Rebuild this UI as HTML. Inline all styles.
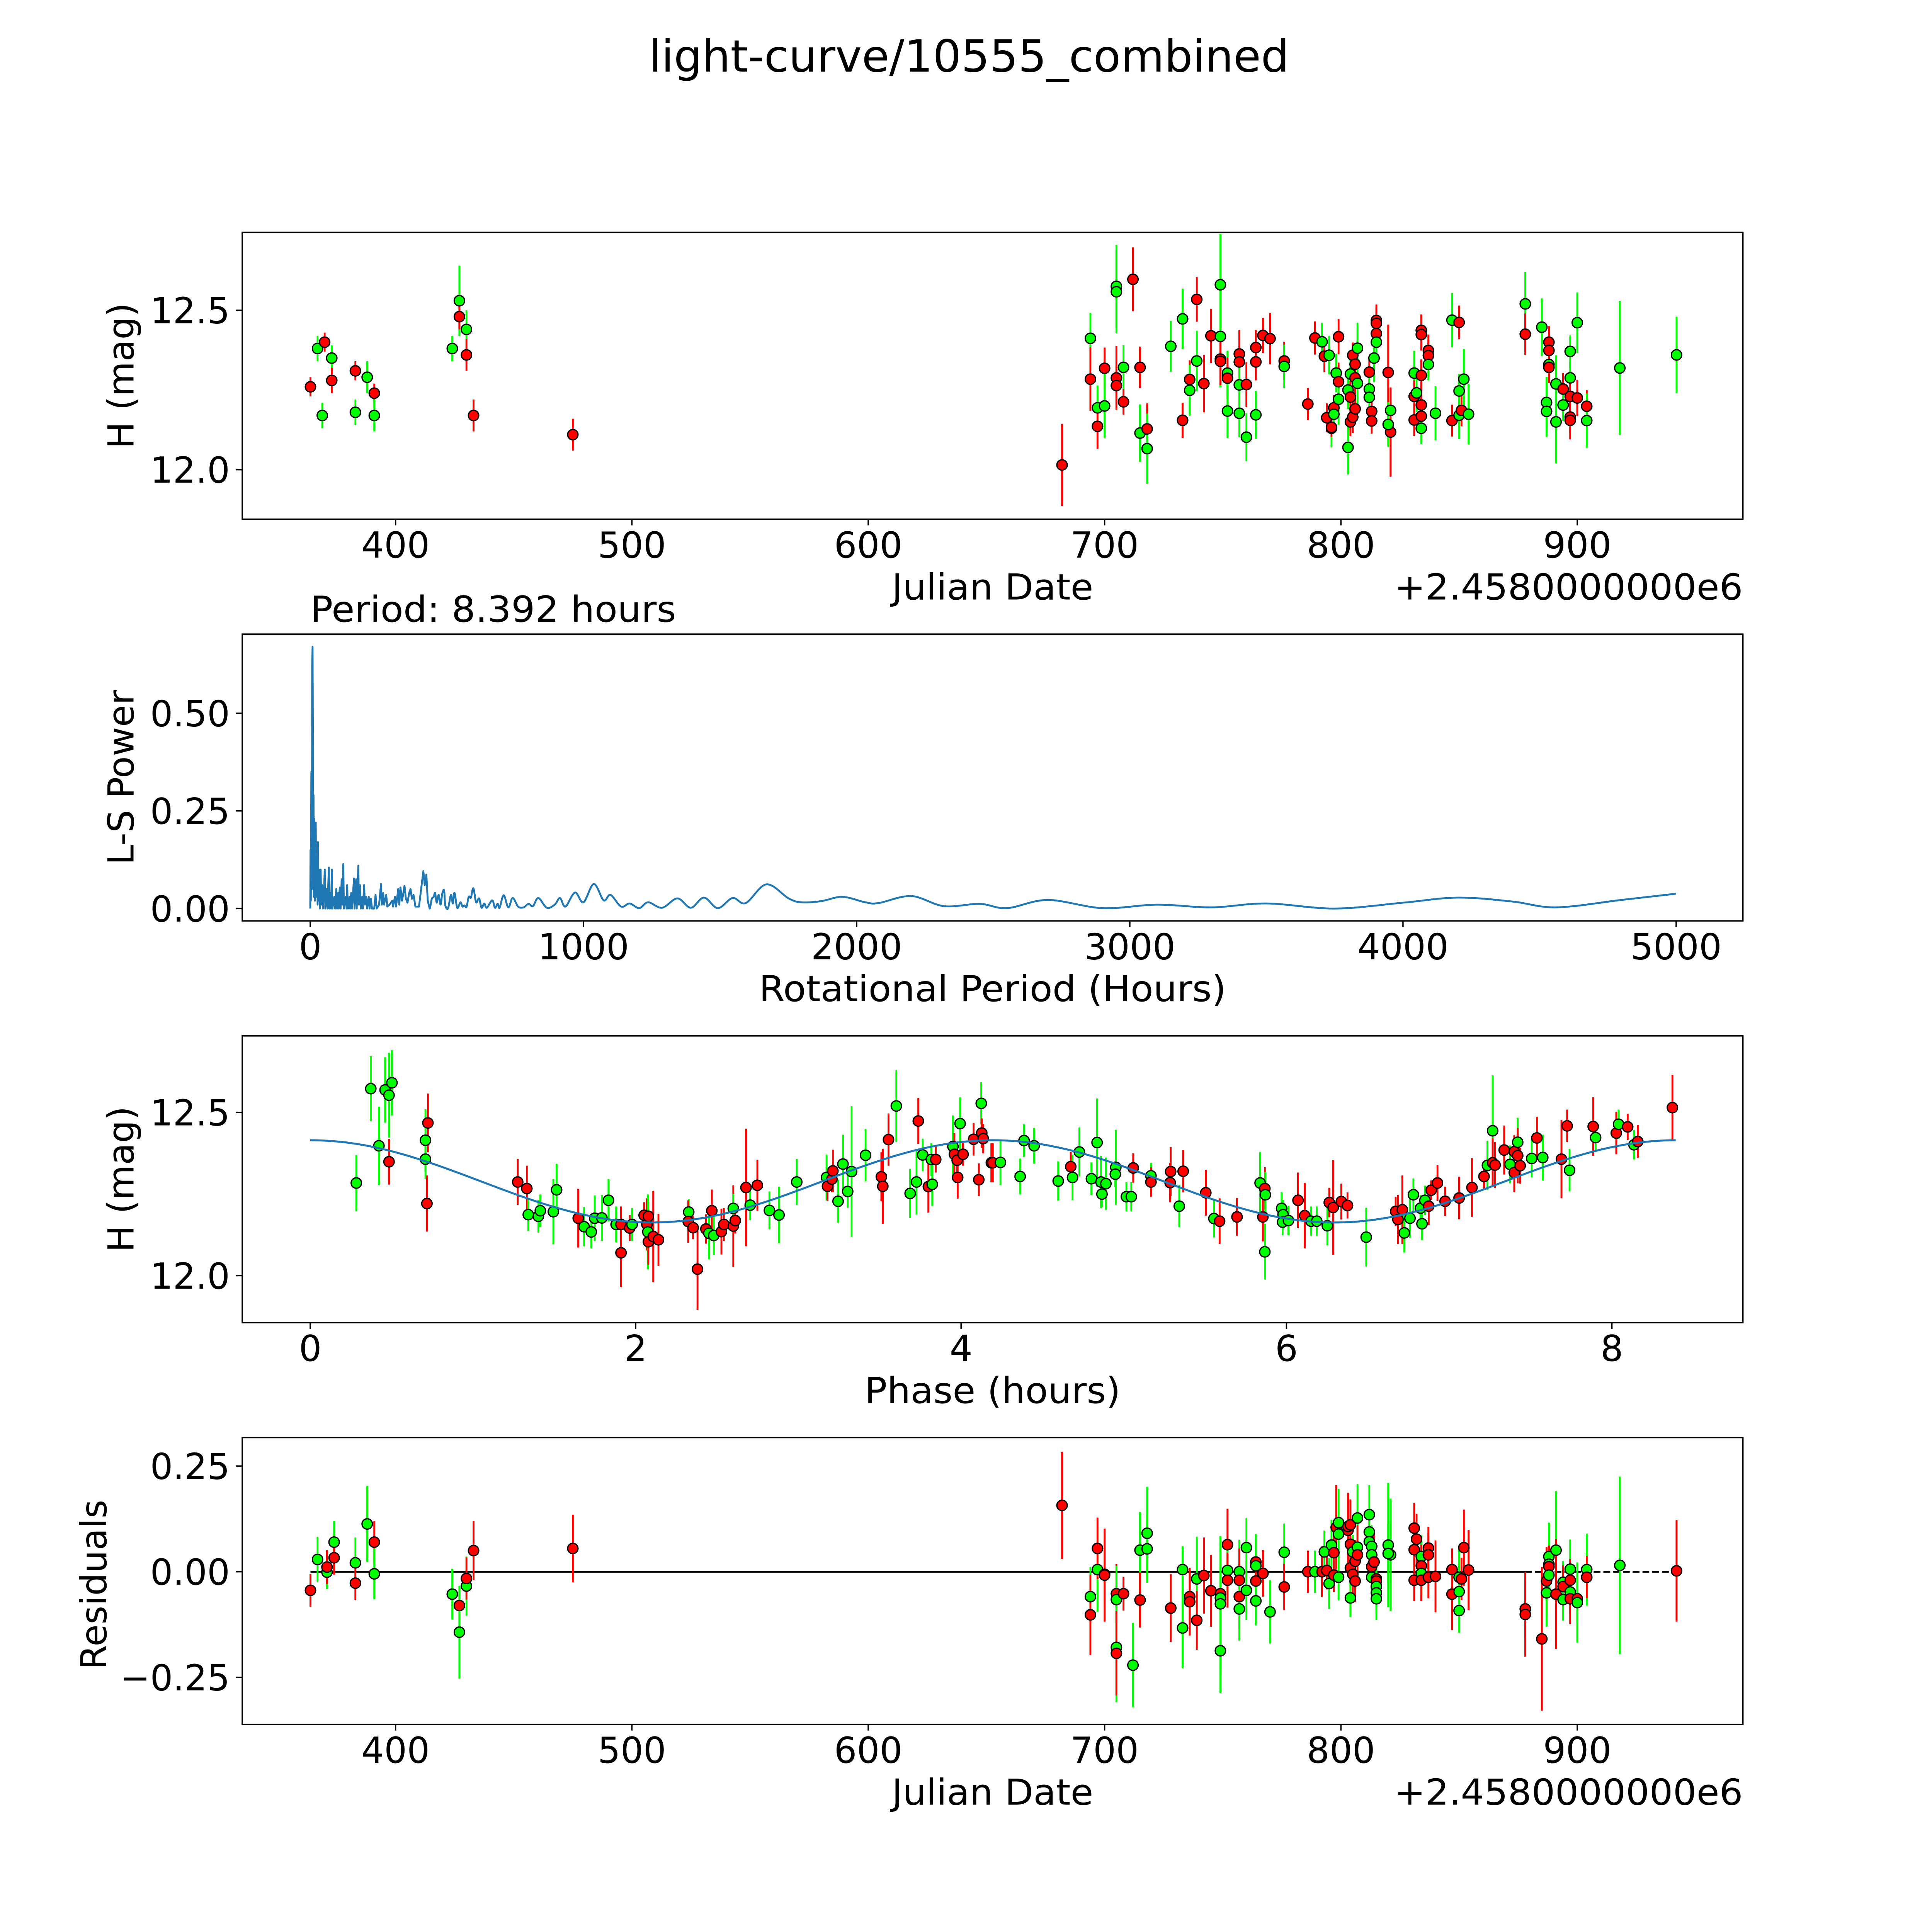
<!DOCTYPE html>
<html><head><meta charset="utf-8"><title>light-curve/10555_combined</title>
<style>html,body{margin:0;padding:0;background:#fff;overflow:hidden;width:5400px;height:5400px}svg{display:block}text{font-family:"DejaVu Sans","Liberation Sans",sans-serif;fill:#000}</style>
</head><body>
<svg id="fig" xmlns="http://www.w3.org/2000/svg" width="5400" height="5400" viewBox="0 0 1688 1688">
<rect width="1688" height="1688" fill="#fff"/>
<text x="784" y="58" font-size="36" text-anchor="middle" textLength="518" lengthAdjust="spacingAndGlyphs">light-curve/10555_combined</text>
<g id="p1"></g>
<g id="p2"></g>
<g id="p3"></g>
<g id="p4"></g>
</svg>
<script>
// ---- Panel 1: light curve ----
const lcDay=[364,367,370,369,373,373,383,383,388,391,391,424,427,427,430,430,433,475,
682,694,694,697,697,700,700,705,705,705,705,708,708,712,715,715,718,718,728,733,733,736,736,739,739,742,745,749,749,749,749,752,752,752,757,757,757,757,760,760,764,764,764,767,770,776,776,786,789,792,793,795,794,796,796,797,797,798,799,799,799,803,803,804,804,804,805,805,806,806,806,807,807,812,812,812,813,813,814,815,815,815,815,820,821,821,820,831,831,831,832,834,834,834,834,834,834,837,837,837,840,847,847,850,850,850,851,852,854,878,878,885,888,888,888,888,887,887,891,891,894,894,897,897,897,897,897,900,900,904,904,918,942];
const lcMag=[12.26,12.38,12.40,12.17,12.35,12.28,12.31,12.18,12.29,12.24,12.17,12.38,12.53,12.48,12.44,12.36,12.17,12.11,
12.015,12.412,12.284,12.194,12.136,12.318,12.200,12.575,12.558,12.288,
12.264,12.321,12.213,12.597,12.321,12.115,12.128,12.066,12.387,12.473,
12.155,12.283,12.249,12.534,12.341,12.270,12.420,12.580,12.418,12.347,
12.340,12.303,12.287,12.184,12.363,12.338,12.266,12.177,12.267,12.102,
12.383,12.338,12.172,12.421,12.411,12.341,12.324,12.206,12.413,12.401,
12.356,12.359,12.163,12.130,12.133,12.194,12.174,12.303,12.276,12.221,
12.417,12.250,12.070,12.300,12.228,12.150,12.359,12.165,12.331,12.288,
12.191,12.381,12.271,12.306,12.253,12.227,12.183,12.153,12.350,12.468,
12.459,12.427,12.400,12.305,12.186,12.118,12.142,12.303,12.230,12.156,
12.241,12.437,12.424,12.296,12.203,12.168,12.130,12.374,12.358,12.330,
12.177,12.469,12.154,12.462,12.247,12.171,12.186,12.284,12.174,12.520,
12.425,12.447,12.400,12.374,12.330,12.321,12.211,12.183,12.269,12.150,
12.253,12.203,12.371,12.288,12.230,12.165,12.155,12.461,12.225,12.199,
12.154,12.319,12.360];
const lcErr=[.03,.04,.03,.04,.04,.04,.03,.04,.05,.03,.05,.04,.11,.04,.06,.05,.05,.05,
.129,.08,.1,.07,.07,.065,.1,.13,.13,.1,
.06,.07,.04,.1,.065,.09,.08,.11,.08,.095,
.055,.06,.08,.07,.095,.09,.085,.16,.16,.08,
.075,.07,.065,.085,.075,.075,.075,.075,.07,.075,
.055,.058,.075,.055,.08,.06,.068,.05,.052,.06,
.05,.06,.045,.06,.03,.04,.04,.06,.06,.08,
.055,.06,.085,.06,.05,.045,.04,.05,.05,.05,
.045,.08,.07,.04,.04,.04,.05,.04,.075,.05,
.05,.05,.06,.15,.07,.14,.07,.07,.05,.05,
.06,.05,.05,.05,.05,.05,.05,.05,.05,.05,
.085,.085,.05,.053,.053,.075,.05,.095,.095,.1,
.065,.09,.05,.05,.05,.05,.08,.08,.09,.13,
.05,.05,.05,.05,.05,.05,.06,.095,.057,.05,
.085,.21,.12];
const lcBand=("rgrggrrggrgggrgrrr"+"rgrgrrgggr"+"rgrrrgrggg"+"rrgrgrrggr"+"rgrgrrggrg"+"rrgrrrgrrg"+"rgrgrrggrg"+"rgggrrrrrr"+"rggrggrrgr"+"rrgrgrggrr"+"grrrrrgrrg"+"ggrrggrggg"+"rgrrgrgggg"+"rgggrrrgrr"+"ggg").split("");

// ---- Panel 2: periodogram ----
const lsPeriod=[0,1,2,4,6,7,8.4,9.5,10.5,12,13,15,17,20,22,25,27,28,30,33,35,38,40,44,46,50,53,55,60,63,68,70,74,76,79,81,88,91,95,98,102,104,108,111,115,117,121,123,130,133,135,138,144,146,150,153,160,162,168,170,176,178,182,185,190,193,197,200,205,208,214,217,222,226,234,239,243,252,259,262,267,270,278,282,290,300,303,310,314,322,326,330,336,345,350,356,362,367,372,378,385,398,405,414,419,425,430,437,445,452,457,463,470,477,483,490,494,504,515,522,528,538,550,557,565,572,580,588,597,607,618,627,637,646,666,676,686,693,708,725,741,761,781,799,815,835,866,895,914,934,969,1000,1038,1074,1099,1138,1169,1204,1237,1288,1344,1393,1441,1492,1546,1594,1670,1751,1798,1871,1948,2032,2080,2200,2320,2450,2550,2700,2900,3100,3300,3500,3750,4000,4200,4400,4560,4800,5000];
const lsPower=[0,0.15,0.02,0.35,0.05,0.62,0.67,0.45,0.08,0.29,0.03,0.23,0.02,0.22,0.03,0.12,0.01,0.17,0.02,0.1,0,0.1,0.01,0.06,0,0.04,0.1,0,0.05,0,0.105,0,0.04,0,0.1,0,0.03,0,0.05,0,0.04,0,0.054,0,0.075,0.01,0.114,0,0.03,0,0.06,0,0.03,0,0.04,0,0.077,0,0.075,0,0.11,0.01,0.06,0,0.03,0,0.06,0.01,0.03,0,0.03,0,0.025,0,0,0.035,0,0.01,0.063,0.01,0.04,0.01,0.035,0.005,0.01,0.02,0.005,0.03,0.005,0.05,0.01,0.054,0.02,0.058,0.025,0.015,0.04,0.05,0.025,0.035,0.005,0.005,0.045,0.096,0.06,0.087,0.02,0,0.025,0.03,0.04,0.015,0.035,0.01,0.037,0.047,0.01,0,0.035,0.013,0.04,0.002,0.016,0.005,0.008,0.004,0.03,0.028,0.052,0.016,0.026,0.002,0.013,0.002,0.021,0.002,0.012,0.002,0.034,0.003,0.027,0.005,0.003,0.012,0.006,0.027,0.002,0.01,0.027,0.005,0.041,0.016,0.063,0.021,0.035,0.005,0.013,0.001,0.016,0.002,0.026,0.002,0.028,0.001,0.027,0.014,0.062,0.026,0.016,0.019,0.03,0.016,0.014,0.032,0.006,0.012,0.001,0.022,0.001,0.01,0.003,0.013,0,0.015,0.028,0.018,0.003,0.022,0.038];
const lsXTicks=[0,1000,2000,3000,4000,5000];
const lsYTicks=[0,0.25,0.5];
const bestPeriod=8.392;

// ---- Panel 3: phased ----
const phPhase=[0.283,0.372,0.422,0.46,0.484,0.484,0.502,0.708,0.723,0.708,0.717,1.275,1.331,1.34,1.402,1.414,1.494,1.514,1.647,1.683,1.727,1.748,1.792,1.833,1.88,1.91,1.91,1.963,1.978,2.052,2.069,2.078,2.075,2.078,2.108,2.14,2.326,2.323,2.353,2.38,2.432,2.45,2.468,2.48,2.527,2.542,2.6,2.6,2.612,2.678,2.704,2.748,2.822,2.881,2.99,3.173,3.179,3.206,3.212,3.244,3.274,3.303,3.327,3.413,3.51,3.519,3.554,3.602,3.687,3.726,3.737,3.764,3.799,3.817,3.823,3.844,3.95,3.959,3.976,3.979,3.994,4.012,4.077,4.109,4.124,4.127,4.136,4.186,
4.195,4.242,4.363,4.387,4.449,4.597,4.674,4.685,4.727,4.801,4.836,4.86,4.89,4.866,4.951,4.948,5.016,5.046,5.058,5.167,5.167,5.288,5.285,5.365,5.341,5.504,5.554,5.589,5.696,5.838,5.867,5.87,5.855,5.867,5.97,5.979,5.976,6.012,6.071,6.112,6.151,6.186,6.251,6.263,6.287,6.337,6.375,6.49,6.671,6.685,6.712,6.724,6.759,6.78,6.824,6.833,6.851,6.874,6.889,6.928,6.975,7.061,7.14,7.214,7.235,7.267,7.267,7.282,7.338,7.374,7.4,7.4,7.421,7.421,7.436,7.507,7.539,7.575,7.69,7.725,7.74,7.885,7.9,8.027,8.041,8.097,8.136,8.159,8.372];
const phMag=[12.284,12.573,12.398,12.569,12.553,12.349,12.591,12.415,12.468,12.357,12.221,12.287,12.267,12.187,12.182,12.199,12.196,12.263,12.176,12.15,12.134,12.176,12.177,12.231,12.157,12.157,12.07,12.146,12.157,12.185,12.157,12.182,12.134,12.104,12.12,12.11,12.195,12.166,12.147,12.02,12.143,12.13,12.199,12.123,12.135,12.157,12.152,12.206,12.169,12.27,12.216,12.277,12.2,12.186,12.287,12.301,12.274,12.296,12.321,12.228,12.342,12.258,12.319,12.369,12.303,12.274,12.417,12.52,12.252,12.287,12.474,12.37,12.273,12.356,12.28,12.356,12.396,12.372,12.354,12.301,12.466,12.372,12.418,12.294,12.528,12.437,12.42,12.346,
12.346,12.347,12.304,12.414,12.398,12.29,12.334,12.301,12.379,12.297,12.408,12.287,12.282,12.25,12.332,12.311,12.242,12.242,12.33,12.306,12.287,12.319,12.285,12.32,12.213,12.254,12.175,12.167,12.18,12.284,12.267,12.248,12.18,12.073,12.206,12.187,12.164,12.169,12.231,12.184,12.167,12.167,12.153,12.224,12.209,12.227,12.215,12.118,12.197,12.172,12.202,12.131,12.176,12.248,12.207,12.159,12.231,12.213,12.262,12.284,12.228,12.238,12.27,12.304,12.338,12.444,12.346,12.339,12.385,12.341,12.38,12.316,12.409,12.368,12.337,12.359,12.422,12.362,12.357,12.459,12.323,12.457,12.423,12.437,12.464,12.456,12.401,12.411,12.515];
const phErr=[.086,.1,.12,.1,.13,.07,.1,.095,.09,.06,.086,.07,.07,.05,.05,.05,.1,.08,.09,.06,.05,.07,.07,.065,.055,.055,.105,.04,.05,.04,.08,.045,.115,.07,.14,.08,.04,.065,.035,.125,.045,.08,.065,.06,.07,.05,.125,.045,.04,.18,.045,.078,.058,.087,.07,.07,.045,.04,.065,.066,.09,.05,.2,.08,.075,.115,.08,.11,.075,.1,.07,.05,.08,.05,.066,.04,.095,.065,.04,.065,.08,.035,.05,.05,.065,.045,.045,.06,
.06,.07,.055,.05,.055,.06,.045,.07,.075,.05,.135,.08,.08,.04,.115,.04,.045,.045,.045,.04,.045,.075,.06,.065,.065,.07,.058,.07,.058,.095,.065,.07,.075,.085,.05,.045,.04,.045,.085,.1,.045,.045,.06,.045,.145,.055,.04,.09,.045,.075,.105,.06,.06,.05,.04,.05,.045,.058,.03,.055,.045,.065,.09,.04,.075,.17,.075,.07,.075,.058,.05,.06,.075,.085,.055,.058,.065,.07,.12,.05,.065,.09,.045,.065,.045,.04,.045,.05,.1];
const phBand=("gggggrggrgrrrgggggrggggggrrrgrrrgrrrgrrrrgrgrrrgrrgrggggrrrgggggrrrgggrgrggrgrrrgrrrgrrrrg"+"ggggrgggggggggggrgrrrrgrgrrgrgrgggggrrgggrrrrgrrrggggggrrrrrrrggrrrgrrgrrgrgrrgrgrgrgrrrrg").split("");
const modelMean=12.289, modelAmp=0.126, modelPeriod=8.392;

// ---- Panel 4: residuals ----
const resDay=[364,367,371,371,374,374,383,383,388,391,391,424,427,427,430,430,433,475,
682,694,694,697,697,700,700,705,705,705,705,708,712,715,715,718,718,728,733,733,736,736,739,739,742,745,749,749,749,749,752,752,752,757,757,757,757,760,760,764,764,764,764,767,770,776,776,786,789,792,793,794,795,796,797,797,798,799,799,799,803,803,804,804,804,804,805,805,806,806,807,807,807,812,812,812,813,813,813,813,814,815,815,815,815,815,820,821,820,831,832,831,831,834,834,834,834,837,837,837,840,847,847,850,850,850,851,852,854,878,878,885,887,887,888,888,888,888,891,891,894,894,894,897,897,897,897,900,900,904,904,918,942];
const resVal=[-.044,.029,-.001,.011,.07,.033,.021,-.027,.113,.07,-.005,-.053,-.08,-.143,-.034,-.016,.05,.055,
.157,-.059,-.102,.005,.055,-.006,-.008,-.052,-.066,-.179,-.193,-.052,-.221,.051,-.067,.091,.054,-.086,.005,-.133,-.059,-.071,-.017,-.115,-.009,-.045,-.052,-.062,-.076,-.187,.064,.003,-.02,0,-.02,-.059,-.088,.057,-.044,.023,.014,-.022,-.069,-.004,-.095,.046,-.036,0,0,0,.047,.003,-.028,.063,.045,-.008,.105,.116,.089,-.013,.098,.107,.111,.065,.009,-.062,.047,-.006,.025,-.022,.127,.058,.04,.135,.094,.071,.06,.04,.012,-.013,.023,-.017,-.022,-.035,-.05,-.064,.063,.04,.043,.103,.077,.052,-.02,.036,.014,-.004,-.02,.056,.04,-.013,-.011,.005,-.053,-.013,-.047,-.092,-.017,.057,.004,-.088,-.101,-.159,-.022,-.05,.036,.018,.012,-.008,.051,-.053,-.025,-.035,-.066,.006,-.02,-.048,-.064,-.064,-.073,.005,-.013,.015,.002];
const resErr=[.039,.053,.04,.04,.05,.04,.06,.04,.09,.05,.06,.06,.045,.11,.07,.05,.07,.08,
.127,.07,.095,.1,.073,.065,.11,.07,.08,.13,.1,.04,.1,.09,.065,.11,.08,.08,.055,.095,.06,.08,.1,.07,.09,.085,.08,.075,.16,.1,.085,.07,.065,.075,.075,.075,.075,.07,.07,.055,.075,.058,.058,.055,.075,.068,.055,.05,.05,.06,.05,.045,.06,.06,.04,.04,.1,.08,.055,.055,.08,.08,.06,.06,.045,.045,.04,.05,.05,.05,.08,.07,.07,.07,.04,.04,.05,.05,.04,.04,.075,.06,.05,.05,.05,.05,.147,.133,.07,.06,.06,.05,.05,.05,.05,.05,.05,.05,.05,.05,.085,.05,.085,.075,.053,.053,.05,.09,.095,.065,.1,.17,.08,.08,.08,.05,.05,.05,.14,.13,.05,.05,.05,.07,.05,.05,.06,.057,.095,.085,.05,.21,.12];
const resBand=("rggrgrgrgrggrggrrr"+"rgrgrgrrggrrggrggrggrrgrrrrgggrgrgrrgggrgrgrggrrgrgrggrrrgggrrrrrggrrrggrgggggrgrrrggggggrrrrgrgrrrrrrrgggrrrrrrrgggrggrgrggrgrrggrgrgggrrgrggrgggg").split("");
const jdTicks=[400,500,600,700,800,900];
const magTicks=[12.0,12.5];
const resTicks=[-0.25,0,0.25];
const phTicks=[0,2,4,6,8];

const NS="http://www.w3.org/2000/svg";
function mk(tag,attrs,parent){const e=document.createElementNS(NS,tag);for(const k in attrs)e.setAttribute(k,attrs[k]);parent.appendChild(e);return e;}
const L=196,R=1410;
function lin(d0,d1,r0,r1){return v=>r0+(v-d0)*(r1-r0)/(d1-d0);}
const xJD=lin(400,900,320,1276);
const yMag1=lin(12.0,12.5,380,251);
const yRes=lin(-0.25,0.25,1357,1186);
const xLS=lin(0,5000,251,1356);
const yLS=lin(0,0.5,735,577);
const xPh=lin(0,8,251,1304);
const yMag3=lin(12.0,12.5,1032,900);
const FS=29;

function frame(g,top,bot,name){
  const r=mk('rect',{x:L,y:top,width:R-L,height:bot-top,fill:'none',stroke:'#000','stroke-width':1.1},g);
  
  
  const cp=mk('clipPath',{id:'clip-'+name},g);
  mk('rect',{x:L,y:top,width:R-L,height:bot-top},cp);
}
function xticks(g,ticks,fx,bot,fmt,name){
  ticks.forEach(t=>{const x=fx(t);
    const l=mk('line',{x1:x,x2:x,y1:bot,y2:bot+5,stroke:'#000','stroke-width':1.1},g);
    
    
    const tx=mk('text',{x:x,y:bot+31,'font-size':FS,'text-anchor':'middle'},g);
    tx.textContent=fmt(t);
    
    });
}
function yticks(g,ticks,fy,fmt,name){
  ticks.forEach(t=>{const y=fy(t);
    const l=mk('line',{x1:L-5,x2:L,y1:y,y2:y,stroke:'#000','stroke-width':1.1},g);
    
    
    const tx=mk('text',{x:L-10,y:y+10.5,'font-size':FS,'text-anchor':'end'},g);
    tx.textContent=fmt(t);
    
    });
}
function label(g,txt,x,y,rot,name,len){
  const a={x:x,y:y,'font-size':FS,'text-anchor':'middle'};
  if(rot)a.transform='rotate(-90 '+x+' '+y+')';
  if(len){a.textLength=len;a.lengthAdjust='spacingAndGlyphs';}
  const t=mk('text',a,g);t.textContent=txt;
  
  
  return t;
}
function points(g,xs,ys,es,bs,fx,fy,name){
  const pg=mk('g',{'clip-path':'url(#clip-'+name+')'},g);
  const n=Math.min(xs.length,ys.length,es.length,bs.length);
  for(let i=0;i<n;i++){
    const c=bs[i]==='r'?'#ff0000':'#00ff00';
    const x=fx(xs[i]);
    const eb=mk('line',{x1:x,x2:x,y1:fy(ys[i]-es[i]),y2:fy(ys[i]+es[i]),stroke:c,'stroke-width':1.5},pg);
    
    
  }
  for(let i=0;i<n;i++){
    const c=bs[i]==='r'?'#ff0000':'#00ff00';
    const p=mk('circle',{cx:fx(xs[i]),cy:fy(ys[i]),r:4.2,fill:c,stroke:'#000','stroke-width':1},pg);
    
    
  }
}
const fmt1=v=>v.toFixed(1);
const fmt2=v=>(v<0?'\u2212':'')+Math.abs(v).toFixed(2);

// Panel 1
const g1=document.getElementById('p1');
frame(g1,188,420,'lc');
xticks(g1,jdTicks,xJD,420,v=>String(v),'lc');
yticks(g1,magTicks,yMag1,fmt1,'lc');
label(g1,'Julian Date',803,485,false,'lc-x-axis-title',163);
label(g1,'+2.4580000000e6',1269,485,false,'lc-offset-text',282);
label(g1,'H (mag)',108,304,true,'lc-y-axis-title');
points(g1,lcDay,lcMag,lcErr,lcBand,xJD,yMag1,'lc');

// Panel 2
const g2=document.getElementById('p2');
frame(g2,513,745,'ls');
xticks(g2,lsXTicks,xLS,745,v=>String(v),'ls');
yticks(g2,lsYTicks,yLS,fmt2,'ls');
label(g2,'Rotational Period (Hours)',803,810,false,'ls-x-axis-title',378);
label(g2,'L-S Power',108,629,true,'ls-y-axis-title');
label(g2,'Period: '+bestPeriod.toFixed(3)+' hours',399,503,false,'period-annotation',296);
(function(){
  let d='M'+xLS(lsPeriod[0])+','+yLS(lsPower[0]);
  for(let i=1;i<lsPeriod.length;i++){
    const x=xLS(lsPeriod[i]),y=yLS(lsPower[i]);
    if(lsPeriod[i]<=440){d+=' L'+x.toFixed(2)+','+y.toFixed(2);}
    else{
      const i0=Math.max(i-2,0),i1=i-1,i3=Math.min(i+1,lsPeriod.length-1);
      const x0=xLS(lsPeriod[i0]),y0=yLS(lsPower[i0]),x1=xLS(lsPeriod[i1]),y1=yLS(lsPower[i1]),x3=xLS(lsPeriod[i3]),y3=yLS(lsPower[i3]);
      const c1x=x1+(x-x0)/6,c1y=y1+(y-y0)/6,c2x=x-(x3-x1)/6,c2y=y-(y3-y1)/6;
      d+=' C'+c1x.toFixed(2)+','+c1y.toFixed(2)+' '+c2x.toFixed(2)+','+c2y.toFixed(2)+' '+x.toFixed(2)+','+y.toFixed(2);
    }
  }
  const p=mk('path',{d:d,fill:'none',stroke:'#1f77b4','stroke-width':1.5,'stroke-linejoin':'round','clip-path':'url(#clip-ls)'},g2);
  
  
})();

// Panel 3
const g3=document.getElementById('p3');
frame(g3,838,1070,'ph');
xticks(g3,phTicks,xPh,1070,v=>String(v),'ph');
yticks(g3,magTicks,yMag3,fmt1,'ph');
label(g3,'Phase (hours)',803,1135,false,'ph-x-axis-title',207);
label(g3,'H (mag)',108,954,true,'ph-y-axis-title');
points(g3,phPhase,phMag,phErr,phBand,xPh,yMag3,'ph');
(function(){
  let d='';
  for(let k=0;k<=300;k++){const ph=modelPeriod*k/300;
    const m=modelMean+modelAmp*Math.cos(4*Math.PI*ph/modelPeriod);
    d+=(k?' L':'M')+xPh(ph).toFixed(2)+','+yMag3(m).toFixed(2);}
  const p=mk('path',{d:d,fill:'none',stroke:'#1f77b4','stroke-width':1.6},g3);
  
  
})();

// Panel 4
const g4=document.getElementById('p4');
frame(g4,1163,1395,'res');
xticks(g4,jdTicks,xJD,1395,v=>String(v),'res');
yticks(g4,resTicks,yRes,fmt2,'res');
label(g4,'Julian Date',803,1460,false,'res-x-axis-title',163);
label(g4,'+2.4580000000e6',1269,1460,false,'res-offset-text',282);
label(g4,'Residuals',86,1282,true,'res-y-axis-title');
(function(){
  const l1=mk('line',{x1:xJD(364),x2:xJD(878),y1:yRes(0),y2:yRes(0),stroke:'#000','stroke-width':1.5},g4);
  
  
  const l2=mk('line',{x1:xJD(878),x2:xJD(942),y1:yRes(0),y2:yRes(0),stroke:'#000','stroke-width':1.5,'stroke-dasharray':'5.5,2.4'},g4);
  
  
})();
points(g4,resDay,resVal,resErr,resBand,xJD,yRes,'res');
</script>
</body></html>
